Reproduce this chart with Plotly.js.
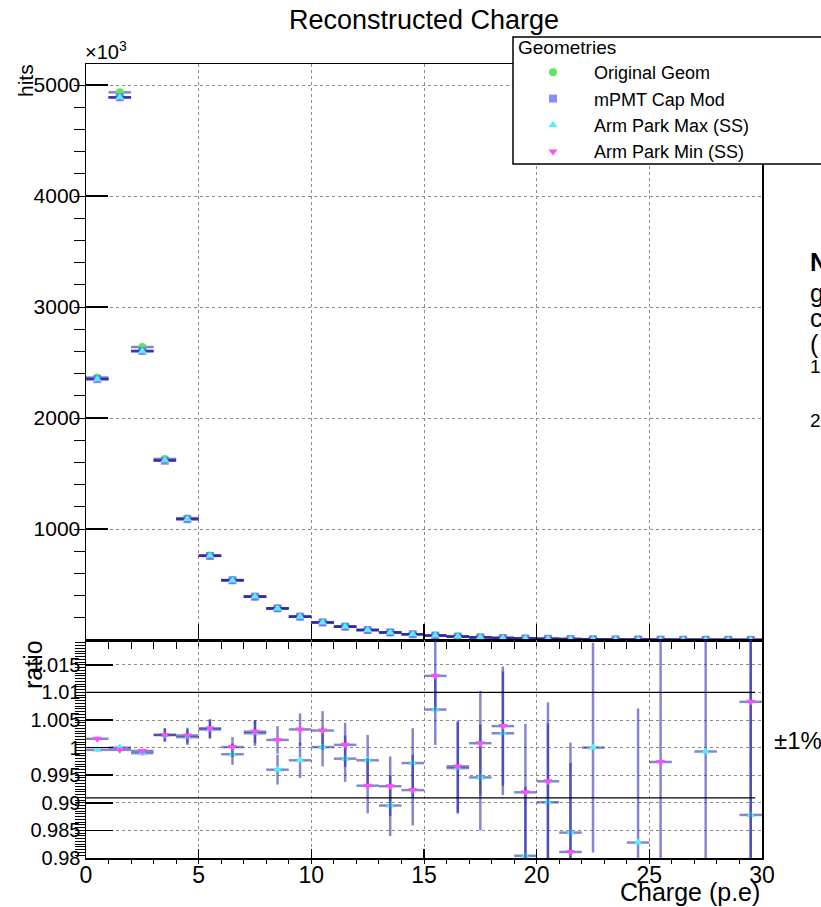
<!DOCTYPE html>
<html>
<head>
<meta charset="utf-8">
<script src="https://cdn.plot.ly/plotly-3.0.1.min.js"></script>
<style>html,body{margin:0;padding:0;background:#fff;}#chart{width:821px;height:907px;}</style>
</head>
<body>
<div id="chart"></div>
<script>
// ---- data (hits in units of 10^3) ----
const charge = [0.5,1.5,2.5,3.5,4.5,5.5,6.5,7.5,8.5,9.5,10.5,11.5,12.5,13.5,14.5,15.5,16.5,17.5,18.5,19.5,20.5,21.5,22.5,23.5,24.5,25.5,26.5,27.5,28.5,29.5];
const origGeom = [2365,4935,2640,1632,1098,762,541,392,286,211,159,121,91,69,52,40,31,24,18,14,11,8.6,6.7,5.2,4.1,3.2,2.5,2.0,1.6,1.3];
const capMod   = [2350,4890,2605,1615,1088,757,538,390,285,210,158,120,90,68,52,40,31,24,18,14,11,8.5,6.6,5.2,4.1,3.2,2.5,2.0,1.6,1.3];
const armMax   = [2349,4890,2602,1619,1090,759,537,391,284,210,158,120,90,67,52,40,31,24,18,14,11,8.4,6.6,5.1,4.0,3.1,2.4,2.0,1.6,1.3];
const armMin   = [2354,4888,2603,1619,1090,760,538,391,285,211,158,120,89,68,52,40,31,24,18,14,11,8.3,6.5,5.1,4.0,3.2,2.5,2.0,1.6,1.3];

const ratioMax    = [0.9996,1.0000,0.9990,1.0023,1.0019,1.0033,0.9988,1.0026,0.9960,0.9977,1.0001,0.9980,0.9977,0.9895,0.9972,1.0069,0.9963,0.9946,1.0026,0.9804,0.9901,0.9846,1.0000,null,0.9828,null,null,0.9993,null,0.9878];
const ratioMaxErr = [0.0003,0.0003,0.0004,0.0012,0.0014,0.0017,0.0019,0.0023,0.0027,0.0032,0.0035,0.0042,0.0046,0.0055,0.0063,0.0064,0.0083,0.0096,0.0112,0.0125,0.0143,0.0163,0.0190,0,0.0243,0,0,0.0280,0,0.0340];
const ratioMin    = [1.0016,0.9996,0.9994,1.0023,1.0022,1.0035,1.0001,1.0029,1.0014,1.0033,1.0031,1.0005,0.9931,0.9930,0.9923,1.0130,0.9966,1.0008,1.0039,0.9919,0.9939,0.9811,null,null,null,0.9974,null,null,null,1.0083];
const ratioMinErr = [0.0003,0.0003,0.0004,0.0012,0.0014,0.0017,0.0018,0.0021,0.0025,0.0029,0.0035,0.0040,0.0050,0.0054,0.0064,0.0064,0.0083,0.0095,0.0108,0.0124,0.0143,0.0161,0,0,0,0.0250,0,0,0,0.0340];

const hitsTicks = [1000,2000,3000,4000,5000];
const hitsTickText = ['1000','2000','3000','4000','5000'];
const ratioTicks = [0.98,0.985,0.99,0.995,1,1.005,1.01,1.015];
const ratioTickText = ['0.98','0.985','0.99','0.995','1','1.005','1.01','1.015'];
const bandLevels = [1.01, 0.9909];
const seriesNames = ['Original Geom','mPMT Cap Mod','Arm Park Max (SS)','Arm Park Min (SS)'];

// ---- styling ----
const FONT = 'Liberation Sans, Arial, Helvetica, sans-serif';
const errCol = 'rgba(35,35,165,0.55)';
const xerr = {type:'constant', value:0.5, color:errCol, thickness:2.5, width:0};
const cGreen = '#5ee65e', cBlue = '#6464ff', cCyan = '#55f2f2', cMag = '#ff4dff';

const traces = [
  {x:charge, y:origGeom, name:seriesNames[0], type:'scatter', mode:'markers', legendrank:1, legendgroup:'a',
   marker:{symbol:'circle', size:8, color:cGreen}, error_x:xerr, xaxis:'x', yaxis:'y'},
  {x:charge, y:armMin, name:seriesNames[3], type:'scatter', mode:'markers', legendrank:4, legendgroup:'d',
   marker:{symbol:'triangle-down', size:8, color:cMag}, error_x:xerr, xaxis:'x', yaxis:'y'},
  {x:charge, y:capMod, name:seriesNames[1], type:'scatter', mode:'markers', legendrank:2, legendgroup:'b',
   marker:{symbol:'square', size:8, color:'rgba(100,100,255,0.75)'}, error_x:xerr, xaxis:'x', yaxis:'y'},
  {x:charge, y:armMax, name:seriesNames[2], type:'scatter', mode:'markers', legendrank:3, legendgroup:'c',
   marker:{symbol:'triangle-up', size:8, color:cCyan}, error_x:xerr, xaxis:'x', yaxis:'y'},
  {x:charge, y:ratioMax, name:seriesNames[2], type:'scatter', mode:'markers', showlegend:false,
   marker:{symbol:'triangle-up', size:8, color:cCyan}, error_x:xerr,
   error_y:{type:'data', array:ratioMaxErr, visible:true, color:errCol, thickness:2.5, width:0},
   xaxis:'x2', yaxis:'y2'},
  {x:charge, y:ratioMin, name:seriesNames[3], type:'scatter', mode:'markers', showlegend:false,
   marker:{symbol:'triangle-down', size:8, color:cMag}, error_x:xerr,
   error_y:{type:'data', array:ratioMinErr, visible:true, color:errCol, thickness:2.5, width:0},
   xaxis:'x2', yaxis:'y2'}
];

const split = 218/794;
const gridCommon = {showgrid:true, gridcolor:'#8a8a8a', griddash:'dot', gridwidth:1,
  showline:true, mirror:true, linecolor:'#000', linewidth:1.5, zeroline:false, ticks:'inside', tickcolor:'#000'};

const layout = {
  width:821, height:907,
  margin:{l:86, r:59, t:64, b:49, pad:0},
  paper_bgcolor:'#fff', plot_bgcolor:'#fff',
  font:{family:FONT, color:'#000'},
  showlegend:true,
  title:{text:'Reconstructed Charge', font:{family:FONT, size:27, color:'#000'},
         xref:'paper', x:0.5, xanchor:'center', yref:'container', y:1-20/907, yanchor:'middle'},
  xaxis:Object.assign({}, gridCommon, {domain:[0,1], anchor:'y', range:[0,30], showticklabels:false,
    tickmode:'linear', tick0:0, dtick:5, ticklen:16, tickwidth:1.5,
    minor:{dtick:1, tick0:0, ticklen:7, tickcolor:'#000', tickwidth:1, showgrid:false}}),
  yaxis:Object.assign({}, gridCommon, {domain:[split,1], anchor:'x', range:[0,5190],
    tickmode:'array', tickvals:hitsTicks, ticktext:hitsTickText, ticklen:22, tickwidth:1.5,
    tickfont:{family:FONT, size:21, color:'#000'},
    minor:{dtick:200, tick0:0, ticklen:11, tickcolor:'#000', tickwidth:1, showgrid:false}}),
  xaxis2:Object.assign({}, gridCommon, {domain:[0,1], anchor:'y2', range:[0,30],
    tickmode:'linear', tick0:0, dtick:5, ticklen:9, tickwidth:1.5, ticklabelstandoff:-4,
    tickfont:{family:FONT, size:23, color:'#000'},
    minor:{dtick:1, tick0:0, ticklen:4, tickcolor:'#000', tickwidth:1, showgrid:false}}),
  yaxis2:Object.assign({}, gridCommon, {domain:[0,split], anchor:'x2', range:[0.98,1.0195],
    tickmode:'array', tickvals:ratioTicks, ticktext:ratioTickText, ticklen:27, tickwidth:1.5,
    tickfont:{family:FONT, size:20, color:'#000'},
    minor:{dtick:0.0005, tick0:0.98, ticklen:10, tickcolor:'#000', tickwidth:1, showgrid:false}}),
  legend:{x:(512-86)/676, xanchor:'left', y:(858-54)/794, yanchor:'top', bgcolor:'rgba(0,0,0,0)',
    borderwidth:0, font:{family:FONT, size:18, color:'#000'}, tracegroupgap:0, itemwidth:72},
  shapes:[
    {type:'rect', xref:'paper', yref:'paper', x0:(513-86)/676, x1:(840-86)/676, y0:(858-164)/794, y1:(858-37)/794,
     fillcolor:'#fff', line:{color:'#000', width:1.5}, layer:'above'},
    ...bandLevels.map(v => ({type:'line', xref:'x2', yref:'y2', x0:0, x1:29.7, y0:v, y1:v,
      line:{color:'#000', width:1.3}, layer:'above'}))
  ],
  annotations:[
    {text:'Geometries', xref:'paper', yref:'paper', x:(516-86)/676, y:(858-47)/794, xanchor:'left', yanchor:'middle',
     showarrow:false, font:{family:FONT, size:19, color:'#000'}},
    {text:'×10<sup>3</sup>', xref:'paper', yref:'paper', x:(83-86)/676, y:(858-65)/794, xanchor:'left', yanchor:'bottom',
     showarrow:false, font:{family:FONT, size:20, color:'#000'}},
    {text:'hits', xref:'paper', yref:'paper', x:(25-86)/676, y:(858-81)/794, xanchor:'center', yanchor:'middle',
     textangle:-90, showarrow:false, font:{family:FONT, size:21, color:'#000'}},
    {text:'ratio', xref:'paper', yref:'paper', x:(33-86)/676, y:(858-665)/794, xanchor:'center', yanchor:'middle',
     textangle:-90, showarrow:false, font:{family:FONT, size:25, color:'#000'}},
    {text:'Charge (p.e)', xref:'paper', yref:'paper', x:1, y:(858-892)/794, xanchor:'right', yanchor:'middle',
     showarrow:false, font:{family:FONT, size:25, color:'#000'}},
    {text:'±1%', xref:'paper', yref:'paper', x:(772-86)/676, y:(858-740)/794, xanchor:'left', yanchor:'middle',
     showarrow:false, font:{family:FONT, size:24, color:'#000'}},
    {text:'<b>N</b>', xref:'paper', yref:'paper', x:(808-86)/676, y:(858-262)/794, xanchor:'left', yanchor:'middle',
     showarrow:false, font:{family:FONT, size:25, color:'#000'}},
    {text:'g', xref:'paper', yref:'paper', x:(808-86)/676, y:(858-293)/794, xanchor:'left', yanchor:'middle',
     showarrow:false, font:{family:FONT, size:25, color:'#000'}},
    {text:'c', xref:'paper', yref:'paper', x:(808-86)/676, y:(858-318)/794, xanchor:'left', yanchor:'middle',
     showarrow:false, font:{family:FONT, size:25, color:'#000'}},
    {text:'(', xref:'paper', yref:'paper', x:(808-86)/676, y:(858-344)/794, xanchor:'left', yanchor:'middle',
     showarrow:false, font:{family:FONT, size:25, color:'#000'}},
    {text:'1', xref:'paper', yref:'paper', x:(808-86)/676, y:(858-366)/794, xanchor:'left', yanchor:'middle',
     showarrow:false, font:{family:FONT, size:19, color:'#000'}},
    {text:'2', xref:'paper', yref:'paper', x:(808-86)/676, y:(858-420)/794, xanchor:'left', yanchor:'middle',
     showarrow:false, font:{family:FONT, size:19, color:'#000'}}
  ]
};

Plotly.newPlot('chart', traces, layout, {staticPlot:true, displayModeBar:false});
</script>
</body>
</html>
